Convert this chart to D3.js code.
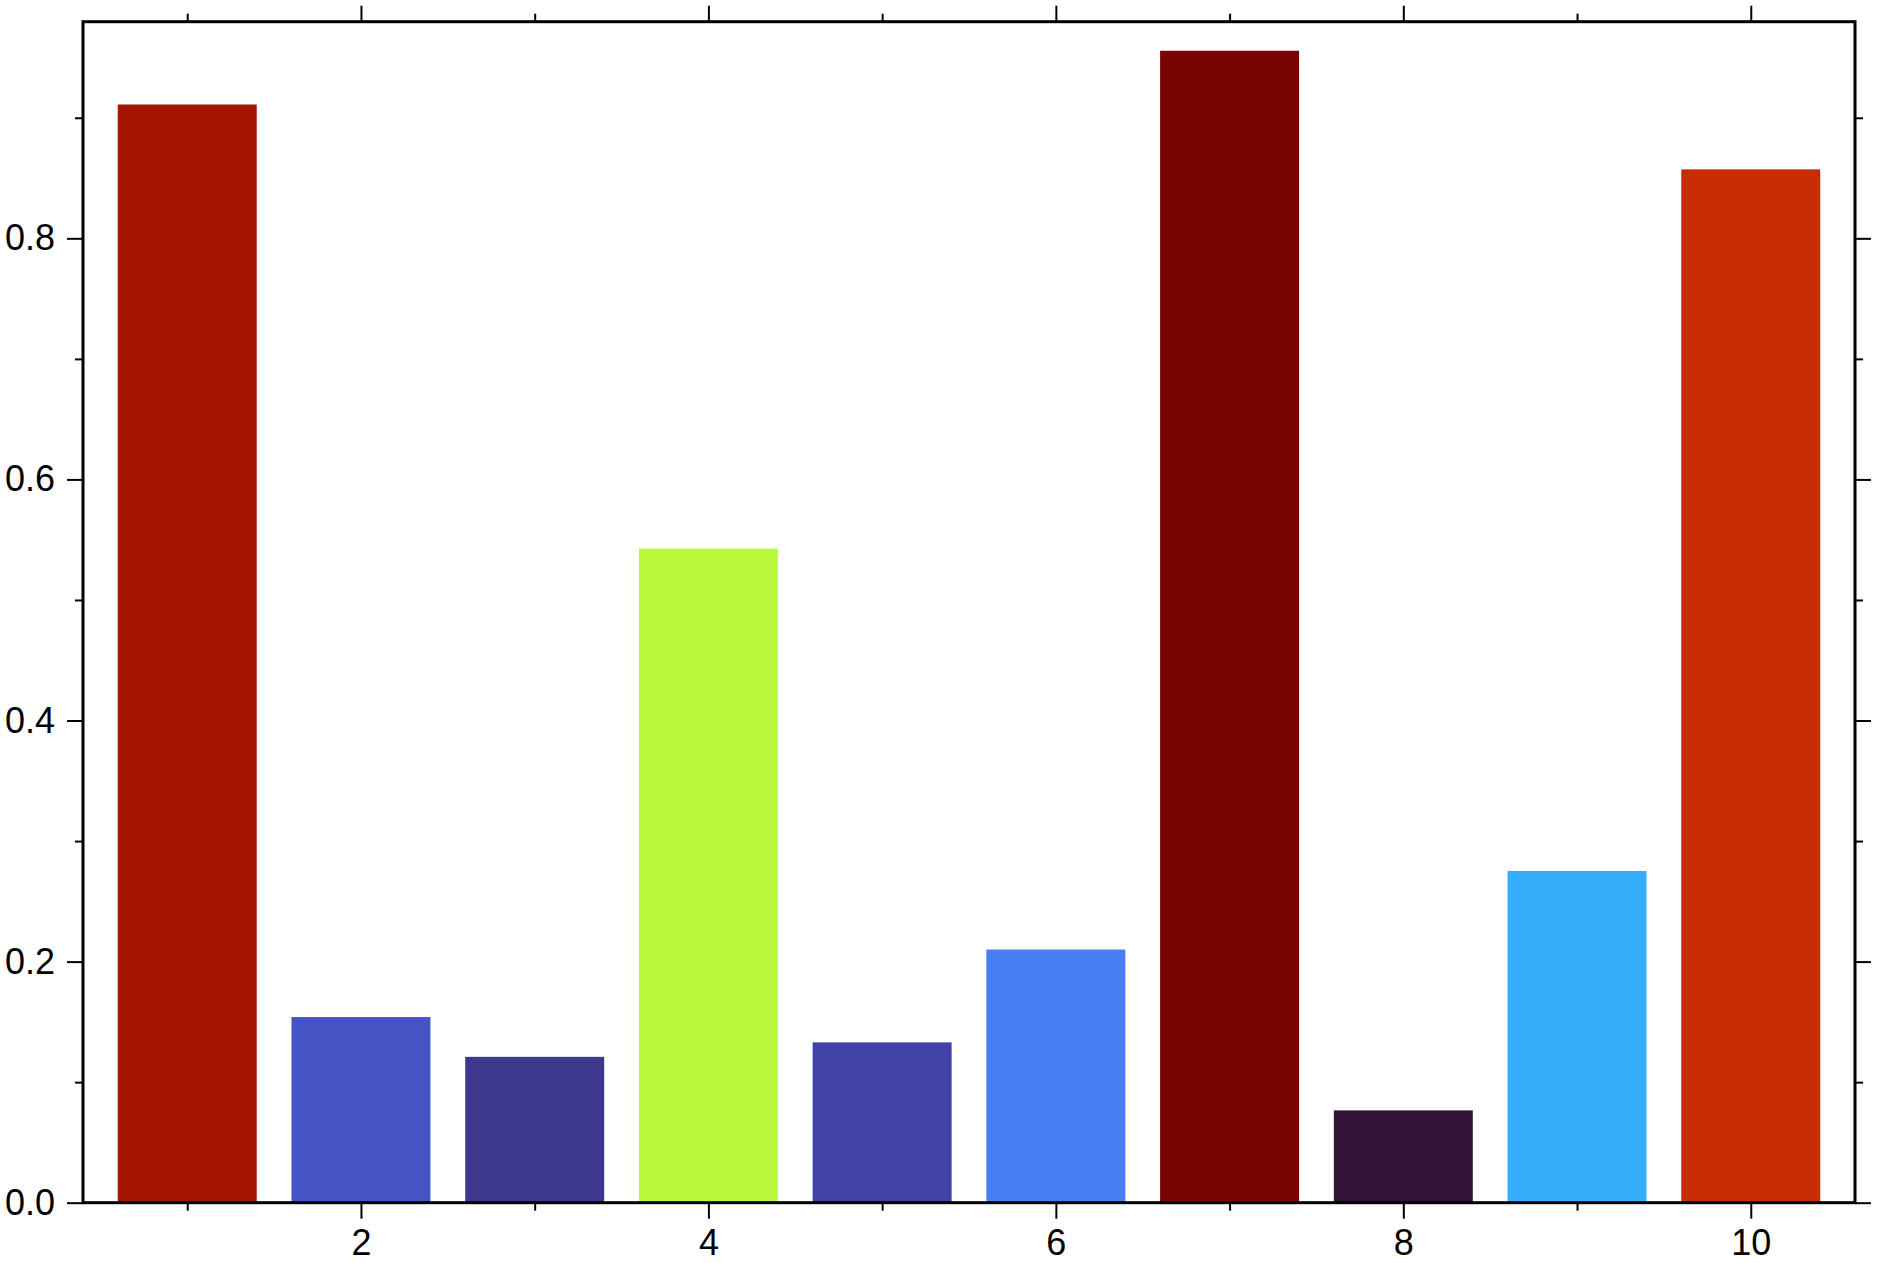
<!DOCTYPE html>
<html>
<head>
<meta charset="utf-8">
<script src="https://cdn.jsdelivr.net/npm/d3@7"></script>
<style>
  html, body { margin: 0; padding: 0; background: #fff; }
  svg { display: block; }
  .axis text { font-family: "Liberation Sans", Arial, Helvetica, sans-serif; font-size: 36px; fill: #000; }
</style>
</head>
<body>
<svg id="chart" width="1877" height="1263"></svg>
<script>
const categories = [1, 2, 3, 4, 5, 6, 7, 8, 9, 10];
const values = [0.911, 0.154, 0.121, 0.5425, 0.133, 0.210, 0.9556, 0.0766, 0.2752, 0.8572];
const colors = ["#A31500", "#4553C4", "#3E378E", "#B9F73A", "#4042A6", "#487EF4", "#7A0403", "#33133A", "#36ADFB", "#C92B04"];
const xMajorTicks = [2, 4, 6, 8, 10];
const xMinorTicks = [1, 3, 5, 7, 9];
const yMajorTicks = [0, 0.2, 0.4, 0.6, 0.8];
const yMinorTicks = [0.1, 0.3, 0.5, 0.7, 0.9];
const xDomain = [0.4, 10.6];
const yDomain = [0, 0.9797];
const barWidth = 0.8;

const svg = d3.select("#chart");
const pLeft = 83, pRight = 1855, pTop = 21.7, pBottom = 1202.7;

const x = d3.scaleLinear().domain(xDomain).range([pLeft, pRight]);
const y = d3.scaleLinear().domain(yDomain).range([pBottom, pTop]);

// bars
svg.append("g").selectAll("rect")
  .data(categories)
  .join("rect")
  .attr("x", (d) => x(d - barWidth / 2))
  .attr("width", (d) => x(d + barWidth / 2) - x(d - barWidth / 2))
  .attr("y", (d, i) => y(values[i]))
  .attr("height", (d, i) => y(0) - y(values[i]))
  .attr("fill", (d, i) => colors[i]);

function styleAxis(g) {
  g.selectAll(".tick line").attr("stroke", "#000").attr("stroke-width", 2);
  g.select(".domain").remove();
}

const fmt = d3.format(".1f");
// bottom
svg.append("g").attr("class", "axis").attr("transform", `translate(0,${pBottom})`)
  .call(d3.axisBottom(x).tickValues(xMajorTicks).tickFormat(d3.format("d")).tickSize(16).tickPadding(11))
  .call(styleAxis);
svg.append("g").attr("class", "axis").attr("transform", `translate(0,${pBottom})`)
  .call(d3.axisBottom(x).tickValues(xMinorTicks).tickFormat("").tickSize(8))
  .call(styleAxis);
// top
svg.append("g").attr("class", "axis").attr("transform", `translate(0,${pTop})`)
  .call(d3.axisTop(x).tickValues(xMajorTicks).tickFormat("").tickSize(16))
  .call(styleAxis);
svg.append("g").attr("class", "axis").attr("transform", `translate(0,${pTop})`)
  .call(d3.axisTop(x).tickValues(xMinorTicks).tickFormat("").tickSize(8))
  .call(styleAxis);
// left
svg.append("g").attr("class", "axis").attr("transform", `translate(${pLeft},0)`)
  .call(d3.axisLeft(y).tickValues(yMajorTicks).tickFormat(fmt).tickSize(16).tickPadding(12))
  .call(styleAxis);
svg.append("g").attr("class", "axis").attr("transform", `translate(${pLeft},0)`)
  .call(d3.axisLeft(y).tickValues(yMinorTicks).tickFormat("").tickSize(8))
  .call(styleAxis);
// right
svg.append("g").attr("class", "axis").attr("transform", `translate(${pRight},0)`)
  .call(d3.axisRight(y).tickValues(yMajorTicks).tickFormat("").tickSize(16))
  .call(styleAxis);
svg.append("g").attr("class", "axis").attr("transform", `translate(${pRight},0)`)
  .call(d3.axisRight(y).tickValues(yMinorTicks).tickFormat("").tickSize(8))
  .call(styleAxis);

// frame
svg.append("rect")
  .attr("x", pLeft).attr("y", pTop)
  .attr("width", pRight - pLeft).attr("height", pBottom - pTop)
  .attr("fill", "none").attr("stroke", "#000").attr("stroke-width", 3);
</script>
</body>
</html>
